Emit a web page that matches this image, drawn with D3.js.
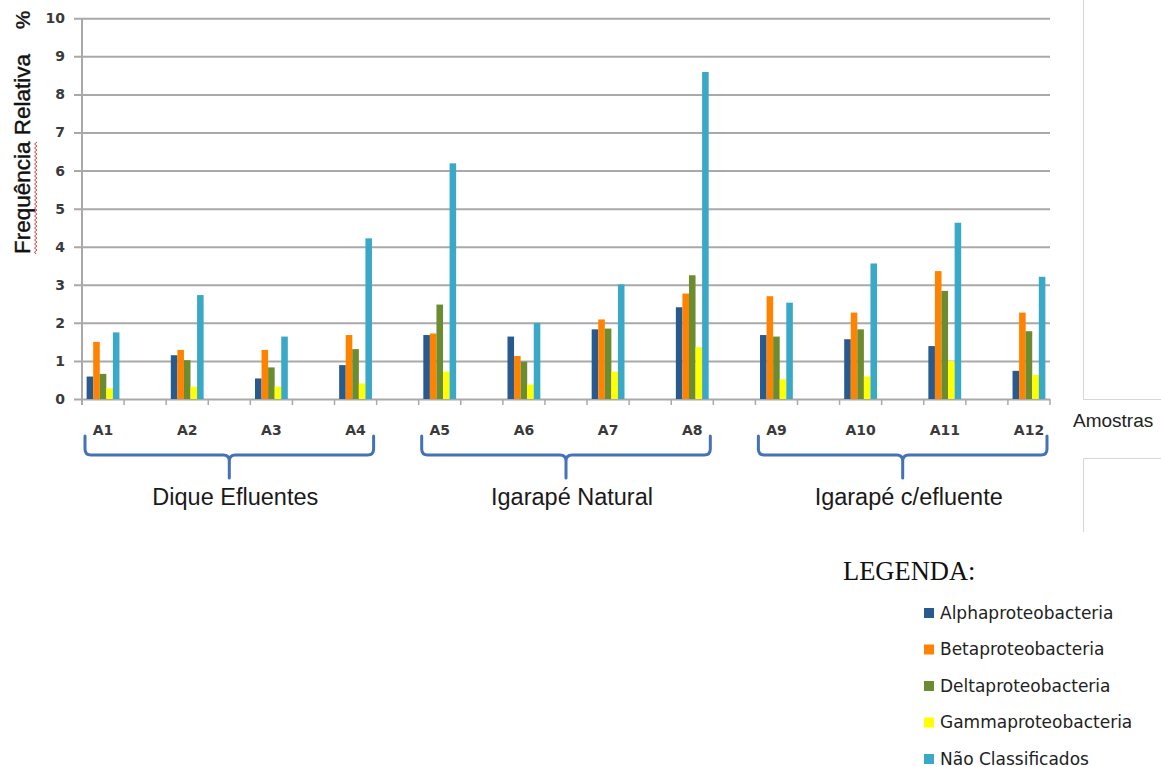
<!DOCTYPE html>
<html>
<head>
<meta charset="utf-8">
<script src="https://cdn.jsdelivr.net/npm/d3@7/dist/d3.min.js"></script>
<style>
  html, body { margin: 0; padding: 0; background: #fff; }
  svg { display: block; }
</style>
</head>
<body>
<svg id="chart" width="1161" height="767"></svg>
<script>
// Relative frequency (%) of proteobacteria classes per sample
const samples = ["A1", "A2", "A3", "A4", "A5", "A6", "A7", "A8", "A9", "A10", "A11", "A12"];
const seriesNames = ["Alphaproteobacteria", "Betaproteobacteria", "Deltaproteobacteria", "Gammaproteobacteria", "Não Classificados"];
const alpha    = [0.59, 1.15, 0.54, 0.89, 1.68, 1.64, 1.83, 2.41, 1.68, 1.57, 1.39, 0.74];
const beta     = [1.50, 1.29, 1.29, 1.68, 1.72, 1.13, 2.09, 2.77, 2.70, 2.27, 3.36, 2.27];
const delta    = [0.66, 1.02, 0.83, 1.31, 2.48, 0.98, 1.85, 3.25, 1.64, 1.83, 2.84, 1.78];
const gamma    = [0.28, 0.32, 0.32, 0.41, 0.72, 0.38, 0.72, 1.36, 0.52, 0.59, 1.00, 0.63];
const naoClass = [1.75, 2.73, 1.64, 4.22, 6.19, 2.00, 3.01, 8.59, 2.53, 3.56, 4.63, 3.21];
const seriesColors = ["#285a8e", "#ff8200", "#6b8c30", "#ffff00", "#3aa9c8"];
const yTicks = [0, 1, 2, 3, 4, 5, 6, 7, 8, 9, 10];
const groupNames = ["Dique Efluentes", "Igarapé Natural", "Igarapé c/efluente"];
const groupMembers = [["A1", "A2", "A3", "A4"], ["A5", "A6", "A7", "A8"], ["A9", "A10", "A11", "A12"]];

const seriesValues = [alpha, beta, delta, gamma, naoClass];

const svg = d3.select("#chart");

const plotLeft = 82, plotRight = 1050, plotTop = 18.3, plotBottom = 399;

// Category slots: each sample followed by an empty spacer slot
const slots = [];
samples.forEach((s, i) => {
  slots.push(s);
  if (i < samples.length - 1) slots.push("__gap" + i);
});

const x = d3.scaleBand().domain(slots).range([plotLeft, plotRight]).padding(0);
const bw = x.bandwidth();
const x1 = d3.scaleBand().domain(seriesNames).range([bw * 0.11, bw * 0.89]).padding(0);
const y = d3.scaleLinear().domain([0, 10]).range([plotBottom, plotTop]);
const color = d3.scaleOrdinal().domain(seriesNames).range(seriesColors);

// Faint frame lines at the right side
const frame = svg.append("g").attr("stroke", "#d6d6d6").attr("stroke-width", 1).attr("fill", "none");
frame.append("path").attr("d", "M1083.5,0 V399.5 H1161");
frame.append("path").attr("d", "M1161,458.5 H1083.5 V532");

// Horizontal gridlines with value labels
const yAxis = d3.axisLeft(y).tickValues(yTicks).tickSize(-(plotRight - 74)).tickPadding(9);
const gy = svg.append("g").attr("transform", "translate(74,0)").call(yAxis);
gy.select(".domain").remove();
gy.selectAll(".tick line").attr("stroke", "#a9a9a9").attr("stroke-width", 2);
gy.selectAll(".tick text")
  .attr("font-family", "DejaVu Sans, sans-serif")
  .attr("font-weight", "bold")
  .attr("font-size", 14)
  .attr("fill", "#3a3a3a");

// Vertical axis line
svg.append("line")
  .attr("x1", plotLeft).attr("x2", plotLeft)
  .attr("y1", y(10)).attr("y2", y(0) + 6)
  .attr("stroke", "#a9a9a9").attr("stroke-width", 2);

// Slot tick marks below the baseline
svg.append("g").selectAll("line")
  .data(d3.range(slots.length + 1))
  .join("line")
  .attr("x1", i => plotLeft + i * x.step())
  .attr("x2", i => plotLeft + i * x.step())
  .attr("y1", y(0)).attr("y2", y(0) + 6)
  .attr("stroke", "#a9a9a9").attr("stroke-width", 1.5);

// Bars
const rows = samples.map((s, i) => ({ sample: s, values: seriesNames.map((n, k) => ({ name: n, value: seriesValues[k][i] })) }));
svg.append("g").selectAll("g")
  .data(rows)
  .join("g")
  .attr("transform", d => `translate(${x(d.sample)},0)`)
  .selectAll("rect")
  .data(d => d.values)
  .join("rect")
  .attr("x", d => x1(d.name))
  .attr("width", x1.bandwidth())
  .attr("y", d => y(d.value))
  .attr("height", d => y(0) - y(d.value))
  .attr("fill", d => color(d.name));

// Sample labels
const xAxis = d3.axisBottom(x).tickValues(samples).tickSize(0).tickPadding(26);
const gx = svg.append("g").attr("transform", `translate(0,${plotBottom})`).call(xAxis);
gx.select(".domain").remove();
gx.selectAll(".tick text")
  .attr("font-family", "DejaVu Sans, sans-serif")
  .attr("font-weight", "bold")
  .attr("font-size", 14)
  .attr("fill", "#3a3a3a");

// Axis titles
svg.append("text")
  .attr("x", 1073).attr("y", 427)
  .attr("font-family", "Liberation Sans, Arial, sans-serif")
  .attr("font-size", 19)
  .attr("fill", "#222")
  .text("Amostras");

const yTitle = svg.append("g").attr("transform", "translate(30,154) rotate(-90)");
const yTitleText = yTitle.append("text")
  .attr("text-anchor", "middle")
  .attr("font-family", "Liberation Sans, Arial, sans-serif")
  .attr("font-size", 22.5)
  .attr("fill", "#111")
  .attr("stroke", "#111")
  .attr("stroke-width", 0.4)
  .text("Frequência Relativa");

// Spell-check style wavy underline under the first word
{
  const node = yTitleText.node();
  const total = node.getComputedTextLength();
  const wordLen = node.getSubStringLength(0, "Frequência".length);
  const x0 = -total / 2, x1w = x0 + wordLen;
  let d = `M${x0},6`;
  let up = true;
  for (let px = x0 + 2; px <= x1w; px += 2) {
    d += ` L${px},${up ? 4.5 : 7}`;
    up = !up;
  }
  yTitle.append("path").attr("d", d).attr("fill", "none").attr("stroke", "#e04040").attr("stroke-width", 1);
}

svg.append("text")
  .attr("transform", "translate(30,20) rotate(-90)")
  .attr("text-anchor", "middle")
  .attr("font-family", "Liberation Sans, Arial, sans-serif")
  .attr("font-weight", "bold")
  .attr("font-size", 21)
  .attr("fill", "#1e1e1e")
  .text("%");

// Group braces and names
const braceColor = "#4472b8";
groupNames.forEach((name, gi) => {
  const members = groupMembers[gi];
  const xa = x(members[0]) + 3;
  const xb = x(members[members.length - 1]) + bw - 3;
  const xm = (xa + xb) / 2;
  const top = 436, mid = 455, tip = 478, r = 6;
  const d = `M${xa},${top} L${xa},${mid - r} Q${xa},${mid} ${xa + r},${mid} L${xm - r},${mid} Q${xm},${mid} ${xm},${mid + r} L${xm},${tip}` +
            ` M${xm},${mid + r} Q${xm},${mid} ${xm + r},${mid} L${xb - r},${mid} Q${xb},${mid} ${xb},${mid - r} L${xb},${top}`;
  svg.append("path").attr("d", d)
    .attr("fill", "none").attr("stroke", braceColor).attr("stroke-width", 3)
    .attr("stroke-linecap", "round").attr("stroke-linejoin", "round");
  svg.append("text")
    .attr("x", xm + 6).attr("y", 505)
    .attr("text-anchor", "middle")
    .attr("font-family", "Liberation Sans, Arial, sans-serif")
    .attr("font-size", 23.5)
    .attr("fill", "#1a1a1a")
    .text(name);
});

// Legend
svg.append("text")
  .attr("x", 843).attr("y", 580)
  .attr("font-family", "Liberation Serif, Times New Roman, serif")
  .attr("font-size", 26.5)
  .attr("fill", "#111")
  .text("LEGENDA:");

const legend = svg.append("g").selectAll("g")
  .data(seriesNames)
  .join("g")
  .attr("transform", (d, i) => `translate(924,${613 + i * 36.5})`);
legend.append("rect")
  .attr("x", 0).attr("y", -5).attr("width", 10).attr("height", 10)
  .attr("fill", d => color(d));
legend.append("text")
  .attr("x", 16).attr("y", 5.5)
  .attr("font-family", "DejaVu Sans, sans-serif")
  .attr("font-size", 17)
  .attr("fill", "#222")
  .text(d => d);
</script>
</body>
</html>
